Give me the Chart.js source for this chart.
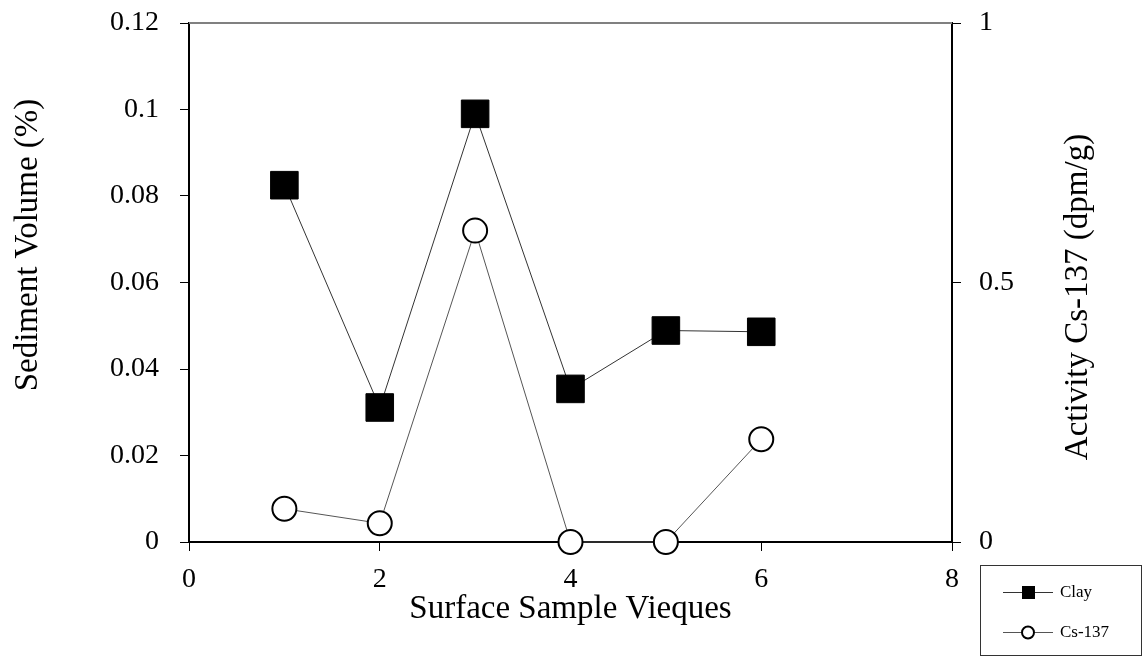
<!DOCTYPE html>
<html>
<head>
<meta charset="utf-8">
<script src="https://cdn.jsdelivr.net/npm/chart.js@4"></script>
<style>
  body { margin: 0; background: #fff; }
  #wrap { width: 1144px; height: 656px; }
</style>
</head>
<body>
<div id="wrap"><canvas id="chart" width="1144" height="656"></canvas></div>
<script>
// data
const samples = [1, 2, 3, 4, 5, 6];
const clayVolume = [0.0825, 0.0311, 0.0990, 0.0354, 0.0489, 0.0486];   // left axis (%)
const cs137Activity = [0.064, 0.036, 0.600, 0, 0, 0.198];             // right axis (dpm/g)
const xTicks = [0, 2, 4, 6, 8];
const leftTicks = [0, 0.02, 0.04, 0.06, 0.08, 0.1, 0.12];
const rightTicks = [0, 0.5, 1];

const FONT = "'Liberation Serif', 'Times New Roman', serif";
Chart.defaults.font.family = FONT;
Chart.defaults.color = '#000';

function fmt(v) {
  return String(Number(v.toFixed(2)));
}

// fixed axis box sizes so the plot area sits where the original has it
function fixWidth(w) {
  return s => {
    s.width = w;
    s.paddingTop = 0;
    s.paddingBottom = 0;
  };
}

// titles, top frame line and the boxed legend
const extras = {
  id: 'extras',
  afterDraw(chart) {
    const ctx = chart.ctx;
    const a = chart.chartArea;
    ctx.save();

    // gray top border
    ctx.strokeStyle = '#808080';
    ctx.lineWidth = 2;
    ctx.beginPath();
    ctx.moveTo(a.left, a.top);
    ctx.lineTo(a.right, a.top);
    ctx.stroke();

    // axis titles
    ctx.fillStyle = '#000';
    ctx.font = '33px ' + FONT;
    ctx.textAlign = 'center';
    ctx.textBaseline = 'middle';
    ctx.fillText('Surface Sample Vieques', (a.left + a.right) / 2, 609);

    ctx.save();
    ctx.translate(28, 245);
    ctx.rotate(-Math.PI / 2);
    ctx.fillText('Sediment Volume (%)', 0, 0);
    ctx.restore();

    ctx.save();
    ctx.translate(1078, 297);
    ctx.rotate(-Math.PI / 2);
    ctx.fillText('Activity Cs-137 (dpm/g)', 0, 0);
    ctx.restore();

    // legend box
    ctx.strokeStyle = '#333';
    ctx.lineWidth = 1;
    ctx.strokeRect(980.5, 565.5, 161, 90);

    ctx.font = '17px ' + FONT;
    ctx.textAlign = 'left';
    chart.data.datasets.forEach((ds, i) => {
      const y = 592 + i * 40;
      ctx.strokeStyle = ds.borderColor;
      ctx.lineWidth = 1;
      ctx.beginPath();
      ctx.moveTo(1003, y + 0.5);
      ctx.lineTo(1053, y + 0.5);
      ctx.stroke();
      ctx.fillStyle = ds.pointBackgroundColor;
      ctx.strokeStyle = ds.pointBorderColor;
      if (ds.pointStyle === 'rect') {
        ctx.fillRect(1022, y - 6, 13, 13);
      } else {
        ctx.lineWidth = 2;
        ctx.beginPath();
        ctx.arc(1028, y + 0.5, 6, 0, Math.PI * 2);
        ctx.fill();
        ctx.stroke();
      }
      ctx.fillStyle = '#000';
      ctx.fillText(ds.label, 1060, y + 1);
    });
    ctx.restore();
  }
};

const data = {
  datasets: [
    {
      label: 'Clay',
      data: samples.map((s, i) => ({ x: s, y: clayVolume[i] })),
      yAxisID: 'y',
      borderColor: '#333',
      borderWidth: 1,
      pointStyle: 'rect',
      pointRadius: 19.5,
      pointBackgroundColor: '#000',
      pointBorderColor: '#000',
      pointBorderWidth: 1,
      clip: false,
      order: 2
    },
    {
      label: 'Cs-137',
      data: samples.map((s, i) => ({ x: s, y: cs137Activity[i] })),
      yAxisID: 'y1',
      borderColor: '#555',
      borderWidth: 1,
      pointStyle: 'circle',
      pointRadius: 12,
      pointBackgroundColor: '#fff',
      pointBorderColor: '#000',
      pointBorderWidth: 2,
      clip: false,
      order: 1
    }
  ]
};

const tickOpts = {
  font: { size: 28 },
  color: '#000'
};

new Chart(document.getElementById('chart').getContext('2d'), {
  type: 'line',
  data: data,
  options: {
    responsive: false,
    animation: false,
    layout: { autoPadding: false, padding: { top: 23, left: 0, right: 0, bottom: 0 } },
    plugins: {
      legend: { display: false },
      tooltip: { enabled: false }
    },
    scales: {
      x: {
        type: 'linear',
        min: 0,
        max: 8,
        afterBuildTicks: s => { s.ticks = xTicks.map(v => ({ value: v })); },
        ticks: Object.assign({}, tickOpts, { padding: 12, callback: v => fmt(v) }),
        grid: { drawOnChartArea: false, tickLength: 9, color: '#000', lineWidth: 1 },
        border: { color: '#000', width: 2 },
        afterFit: s => { s.height = 114; }
      },
      y: {
        position: 'left',
        min: 0,
        max: 0.12,
        afterBuildTicks: s => { s.ticks = leftTicks.map(v => ({ value: v })); },
        ticks: Object.assign({}, tickOpts, { padding: 21, callback: v => fmt(v) }),
        grid: { drawOnChartArea: false, tickLength: 9, color: '#000', lineWidth: 1 },
        border: { color: '#000', width: 2 },
        afterFit: fixWidth(189)
      },
      y1: {
        position: 'right',
        min: 0,
        max: 1,
        afterBuildTicks: s => { s.ticks = rightTicks.map(v => ({ value: v })); },
        ticks: Object.assign({}, tickOpts, { padding: 18, callback: v => fmt(v) }),
        grid: { drawOnChartArea: false, tickLength: 9, color: '#000', lineWidth: 1 },
        border: { color: '#000', width: 2 },
        afterFit: fixWidth(192)
      }
    }
  },
  plugins: [extras]
});
</script>
</body>
</html>
